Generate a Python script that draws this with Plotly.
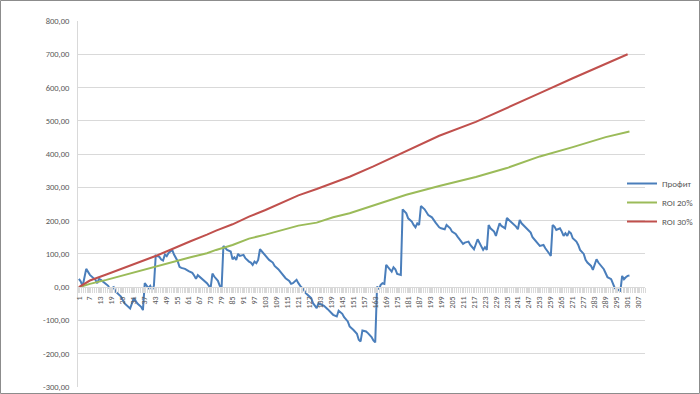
import plotly.graph_objects as go

# ---- data ----
profit_x = [1, 2, 3, 5, 7, 9, 10, 11, 12, 13, 15, 17, 18, 20, 21, 24, 26, 28, 29, 31, 33, 35, 36, 37, 39, 40, 41, 42,
            43, 45, 46, 47, 48, 49, 50, 52, 53, 55, 56, 57, 59, 61, 63, 64, 65, 66, 68, 70, 71, 73, 74, 75, 77, 78, 79,
            80, 81, 82, 84, 85, 86, 87, 88, 89, 91, 92, 94, 95, 96, 97, 98, 99, 100, 101, 103, 104, 105, 107, 108, 110,
            112, 114, 116, 117, 118, 120, 121, 122, 124, 125, 126, 128, 129, 131, 132, 133, 135, 137, 139, 140, 142,
            143, 145, 146, 148, 149, 151, 153, 154, 155, 156, 158, 159, 161, 162, 163, 164, 165, 166, 167, 168, 169,
            170, 172, 173, 174, 175, 177, 178, 180, 181, 183, 184, 185, 186, 187, 188, 190, 192, 194, 196, 198, 199,
            201, 202, 204, 205, 207, 208, 210, 211, 212, 214, 215, 216, 217, 219, 220, 221, 222, 223, 224, 225, 226,
            228, 229, 230, 231, 232, 234, 235, 237, 238, 240, 241, 242, 243, 245, 246, 248, 249, 251, 252, 253, 255,
            256, 258, 259, 260, 261, 262, 264, 265, 266, 267, 268, 269, 270, 271, 273, 274, 275, 277, 278, 279, 281,
            282, 284, 285, 286, 288, 289, 290, 292, 293, 294, 296, 297, 298, 299, 300, 301, 302]
profit_y = [25, 17, 2, 55, 37, 27, 22, 12, 25, 22, 14, 4, -6, 0, -13, -28, -49, -59, -64, -33, -49, -59, -69, 12, -3, 4,
            -8, 4, 95, 91, 83, 80, 98, 93, 103, 112, 98, 78, 61, 58, 55, 48, 43, 35, 25, 36, 27, 17, 12, -3, 41, 32, 19,
            4, -3, 124, 117, 112, 107, 84, 90, 82, 100, 94, 97, 87, 77, 74, 67, 77, 72, 82, 114, 107, 94, 87, 82, 74,
            64, 54, 42, 27, 19, 10, 12, 22, 12, 4, -8, -18, -23, -33, -48, -63, -48, -50, -56, -66, -76, -83, -88, -71,
            -80, -90, -103, -118, -128, -140, -158, -163, -130, -133, -138, -150, -160, -166, 2, -6, 7, 12, 10, 67, 60,
            47, 60, 54, 40, 37, 234, 222, 207, 197, 187, 180, 192, 187, 244, 234, 217, 210, 194, 180, 177, 174, 187,
            177, 167, 160, 152, 137, 130, 134, 137, 127, 122, 114, 144, 134, 124, 112, 120, 112, 187, 177, 167, 154,
            174, 192, 184, 177, 208, 197, 194, 182, 174, 202, 192, 180, 174, 164, 150, 137, 130, 124, 127, 117, 102,
            94, 187, 182, 172, 177, 167, 154, 162, 154, 167, 162, 147, 137, 127, 112, 100, 82, 74, 64, 52, 84, 74, 67,
            54, 42, 30, 24, 10, -3, -8, -13, 34, 24, 30, 34, 35]

roi20_x = [1, 7, 16, 26, 35, 44, 56, 62, 71, 76, 85, 94, 103, 112, 121, 131, 140, 149, 166, 180, 198, 218, 235, 253,
           271, 289, 302]
roi20_y = [0, 10, 22, 37, 50, 64, 82, 90, 102, 112, 127, 146, 158, 172, 185, 194, 210, 222, 252, 278, 304, 331, 358,
           393, 421, 451, 468]

roi30_x = [1, 7, 16, 26, 35, 44, 53, 58, 62, 71, 76, 85, 94, 103, 112, 121, 131, 140, 149, 162, 180, 198, 218, 235,
           253, 271, 289, 301]
roi30_y = [0, 20, 38, 58, 77, 96, 117, 130, 138, 158, 170, 189, 212, 232, 253, 276, 295, 314, 332, 363, 408, 455, 497,
           538, 583, 628, 672, 700]

x_tickvals = list(range(1, 308, 6))
x_ticktext = [str(v) for v in x_tickvals]
y_tickvals = [-300, -200, -100, 0, 100, 200, 300, 400, 500, 600, 700, 800]
y_ticktext = ["-300,00", "-200,00", "-100,00", "0,00", "100,00", "200,00", "300,00", "400,00", "500,00",
              "600,00", "700,00", "800,00"]

names = ["Профит", "ROI 20%", "ROI 30%"]
colors = ["#4A7EBB", "#9BBB59", "#C0504D"]

# ---- figure ----
W, H = 700, 394
ML, MR, MT, MB = 78, 55, 21, 7
PW, PH = W - ML - MR, H - MT - MB
YMIN, YMAX = -300, 800
FONT = "Calibri, Carlito, Liberation Sans, Arial, sans-serif"

fig = go.Figure()
for xs, ys, nm, col in [(profit_x, profit_y, names[0], colors[0]),
                        (roi20_x, roi20_y, names[1], colors[1]),
                        (roi30_x, roi30_y, names[2], colors[2])]:
    fig.add_trace(go.Scatter(x=xs, y=ys, name=nm, mode="lines",
                             line=dict(color=col, width=2), hoverinfo="skip"))

fig.update_layout(
    width=W, height=H,
    margin=dict(l=ML, r=MR, t=MT, b=MB, autoexpand=False),
    paper_bgcolor="white", plot_bgcolor="white",
    font=dict(family=FONT, size=8, color="#595959"),
    showlegend=True,
    legend=dict(x=(622 - ML) / PW, xanchor="left", y=1 - (169 - MT) / PH, yanchor="top",
                bgcolor="rgba(0,0,0,0)", font=dict(size=9, color="#595959"),
                itemwidth=30, tracegroupgap=0),
    xaxis=dict(
        range=[0.5, 310.5],
        anchor="free", position=(0 - YMIN) / (YMAX - YMIN),
        showgrid=False, zeroline=False,
        showline=True, linecolor="#d9d9d9", linewidth=1,
        tickmode="array", tickvals=x_tickvals, ticktext=x_ticktext,
        tickangle=-90, ticks="outside", ticklen=5, tickcolor="#d9d9d9",
        minor=dict(tickmode="linear", tick0=0.5, dtick=1, ticks="outside",
                   ticklen=5, tickcolor="#d9d9d9", showgrid=False),
        tickfont=dict(size=8, color="#595959"),
    ),
    yaxis=dict(
        range=[YMIN, YMAX],
        showgrid=True, gridcolor="#d9d9d9", gridwidth=1,
        zeroline=False,
        showline=True, linecolor="#d9d9d9", linewidth=1,
        tickmode="array", tickvals=y_tickvals, ticktext=y_ticktext,
        ticks="", ticklabelstandoff=6,
        tickfont=dict(size=8.5, color="#595959"),
    ),
)

# outer chart border
fig.add_shape(type="rect", xref="paper", yref="paper",
              x0=(0.5 - ML) / PW, x1=(W - 0.5 - ML) / PW,
              y0=(-(MB - 0.5)) / PH, y1=(PH + MT - 0.5) / PH,
              line=dict(color="#8c8c8c", width=1), fillcolor="rgba(0,0,0,0)")

fig.write_html("out.html")
